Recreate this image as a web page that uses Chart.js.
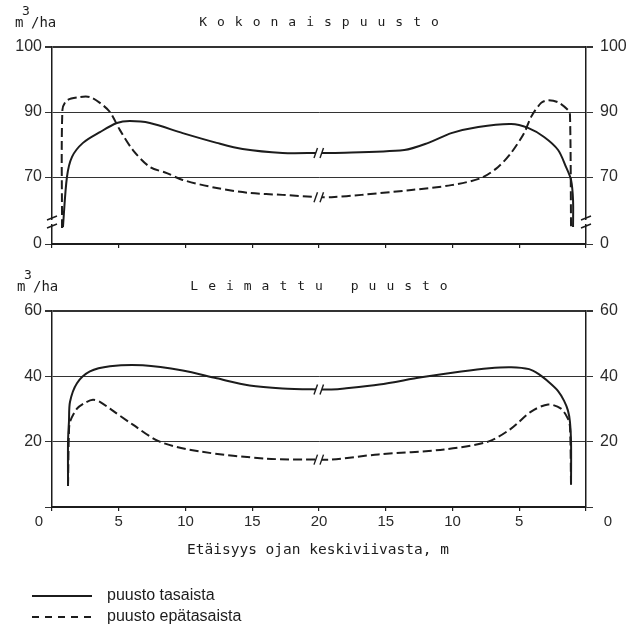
<!DOCTYPE html>
<html lang="fi">
<head>
    <meta charset="UTF-8">
    <title>Puusto</title>
    <script src="https://cdn.jsdelivr.net/npm/chart.js@4.4.0/dist/chart.umd.min.js"></script>
    <style>
        body { margin: 0; background: #fff; }
        #wrap { position: relative; width: 632px; height: 628px; }
        canvas { position: absolute; left: 0; }
        #topChart { top: 0; }
        #bottomChart { top: 262px; }
    </style>
</head>

<body>
    <div id="wrap">
        <canvas id="topChart" width="632" height="262"></canvas>
        <canvas id="bottomChart" width="632" height="366"></canvas>
    </div>
    <script>
        // x = position across the strip (0..40), 20 = middle between the two ditches
        const xTicks = [0, 5, 10, 15, 20, 25, 30, 35, 40];
        const xTickLabels = ['0', '5', '10', '15', '20', '15', '10', '5', '0'];
        const breakX = 20;

        const topTicks = [0, 70, 90, 100];
        const bottomTicks = [0, 20, 40, 60];

        const seriesLabels = ['puusto tasaista', 'puusto epätasaista'];

        // Kokonaispuusto, m3/ha
        const topSolidX = [0.82, 1.12, 1.50, 2.32, 3.59, 4.86, 5.83, 7.33, 9.79, 12.34, 14.28, 17.27, 20, 20.93, 26.39, 28.19, 29.91, 31.93, 34.39, 35.66, 36.86, 37.91, 38.50, 38.88, 39.03, 39.03];
        const topSolidY = [54.6, 70.0, 76.2, 80.5, 83.8, 86.6, 87.2, 86.6, 83.5, 80.5, 78.6, 77.4, 77.4, 77.4, 78.3, 80.5, 83.5, 85.4, 86.3, 85.1, 82.3, 78.3, 73.1, 69.1, 62.9, 54.6];
        const topDashX = [0.75, 0.78, 1.12, 2.09, 2.84, 3.59, 4.34, 5.08, 6.06, 7.33, 8.60, 9.79, 12.34, 14.80, 17.27, 20, 20.93, 23.18, 26.92, 29.91, 32.15, 33.42, 34.39, 35.36, 35.89, 36.64, 37.16, 37.91, 38.65, 38.80, 38.88];
        const topDashY = [54.3, 90.3, 91.8, 92.3, 92.3, 91.4, 90.0, 84.5, 78.3, 73.1, 71.2, 69.1, 66.6, 65.1, 64.5, 63.8, 63.8, 64.5, 66.0, 67.5, 69.7, 73.1, 77.4, 83.5, 88.5, 91.4, 91.8, 91.5, 90.3, 89.1, 54.3];

        // Leimattu puusto, m3/ha
        const botSolidX = [1.20, 1.20, 1.27, 1.35, 1.87, 2.84, 4.34, 6.80, 9.79, 12.34, 14.80, 17.27, 20, 20.93, 21.91, 24.52, 27.66, 30.65, 32.75, 34.39, 35.74, 36.49, 37.23, 37.91, 38.36, 38.65, 38.80, 38.88, 38.88];
        const botSolidY = [6.4, 20.0, 26.1, 32.2, 37.9, 41.5, 43.1, 43.4, 41.8, 39.4, 37.2, 36.3, 36.0, 36.0, 36.3, 37.5, 39.7, 41.5, 42.5, 42.8, 42.2, 40.6, 38.2, 35.5, 32.5, 29.5, 26.0, 20.0, 7.0];
        const botDashX = [1.20, 1.27, 1.35, 1.87, 2.47, 3.07, 3.59, 4.34, 6.06, 8.07, 11.07, 16.07, 20, 20.93, 24.45, 29.38, 32.67, 34.39, 35.89, 37.16, 38.13, 38.65, 38.80, 38.88];
        const botDashY = [6.4, 23.1, 26.1, 30.1, 31.9, 32.8, 32.2, 30.1, 25.2, 20.0, 17.0, 14.8, 14.5, 14.5, 16.1, 17.6, 20.0, 24.0, 29.2, 31.4, 30.1, 27.0, 24.6, 6.4];

        const INK = '#1c1c1c';
        const GRID = '#333';
        const MONO = '"DejaVu Sans Mono", monospace';
        const SANS = '"Liberation Sans", Arial, sans-serif';

        // the upper y axis is drawn unevenly (broken below 70, 90..100 stretched)
        function topPos(v) {
            if (v >= 90) return 132 + (v - 90) * 6.5;
            return Math.max(0, 67 + (v - 70) * 3.25);
        }

        const toPoints = (xs, ys, f) => xs.map((x, i) => ({ x: x, y: f ? f(ys[i]) : ys[i] }));

        function lineSets(sx, sy, dx, dy, f) {
            return [
                { label: seriesLabels[0], data: toPoints(sx, sy, f), borderColor: INK, borderWidth: 2, pointRadius: 0, tension: 0.3, fill: false },
                { label: seriesLabels[1], data: toPoints(dx, dy, f), borderColor: INK, borderWidth: 2, borderDash: [9, 4], pointRadius: 0, tension: 0.3, fill: false }
            ];
        }

        // "//" marks on the curves and the axis breaks
        const breakMarks = {
            id: 'breakMarks',
            afterDatasetsDraw(chart, args, opts) {
                const { ctx, chartArea } = chart;
                const x = chart.scales.x, y = chart.scales.y;
                const bx = x.getPixelForValue(breakX);
                ctx.save();
                ctx.setLineDash([]);
                ctx.strokeStyle = INK;
                ctx.lineWidth = 1.4;
                chart.data.datasets.forEach(ds => {
                    const p = ds.data.find(d => d.x === breakX);
                    if (!p) return;
                    const py = y.getPixelForValue(p.y);
                    ctx.fillStyle = '#fff';
                    ctx.fillRect(bx - 3, py - 3, 6, 6);
                    [-3, 3].forEach(o => {
                        ctx.beginPath();
                        ctx.moveTo(bx + o - 2, py + 5);
                        ctx.lineTo(bx + o + 1.5, py - 5);
                        ctx.stroke();
                    });
                });
                if (opts.axisBreakPos != null) {
                    const by = y.getPixelForValue(opts.axisBreakPos);
                    [chartArea.left, chartArea.right].forEach(ax => {
                        ctx.fillStyle = '#fff';
                        ctx.fillRect(ax - 2, by - 2, 4, 4);
                        ctx.beginPath();
                        ctx.moveTo(ax - 5, by - 2); ctx.lineTo(ax + 5, by - 6);
                        ctx.moveTo(ax - 5, by + 6); ctx.lineTo(ax + 5, by + 2);
                        ctx.stroke();
                    });
                }
                ctx.restore();
            }
        };

        // titles, unit, axis title, legend
        const decor = {
            id: 'decor',
            afterDraw(chart, args, o) {
                const { ctx, chartArea } = chart;
                ctx.save();
                ctx.fillStyle = INK;
                ctx.textBaseline = 'alphabetic';
                // unit m3/ha
                ctx.font = '14px ' + MONO;
                ctx.fillText('m', o.unitX, o.unitY);
                ctx.fillText('/ha', o.unitX + 16, o.unitY);
                ctx.font = '13px ' + MONO;
                ctx.fillText('3', o.unitX + 7, o.unitY - 12);
                // spaced title
                ctx.font = '13px ' + MONO;
                ctx.letterSpacing = '10px';
                const w = ctx.measureText(o.title).width - 10;
                ctx.textBaseline = 'middle';
                ctx.fillText(o.title, (chartArea.left + chartArea.right) / 2 - w / 2, o.titleY);
                ctx.letterSpacing = '0px';

                if (o.xTitle) {
                    const lab = chart.scales.x;
                    ctx.font = '15px ' + SANS;
                    ctx.fillStyle = '#2a2a2a';
                    ctx.textAlign = 'center';
                    ctx.fillText(xTickLabels[0], lab.getPixelForValue(xTicks[0]) - 13, chartArea.bottom + 15);
                    ctx.fillText(xTickLabels[xTickLabels.length - 1], lab.getPixelForValue(xTicks[xTicks.length - 1]) + 22, chartArea.bottom + 15);
                    ctx.fillStyle = INK;
                    ctx.font = '14.5px ' + MONO;
                    ctx.fillText(o.xTitle, (chartArea.left + chartArea.right) / 2 - 1, chartArea.bottom + 43);
                    ctx.textAlign = 'left';
                    chart.data.datasets.forEach((ds, i) => {
                        const ly = o.legendY + i * 21;
                        ctx.strokeStyle = INK;
                        ctx.lineWidth = 2;
                        ctx.setLineDash(ds.borderDash ? [7, 6] : []);
                        ctx.beginPath();
                        ctx.moveTo(32, ly);
                        ctx.lineTo(92, ly);
                        ctx.stroke();
                        ctx.font = '16px ' + SANS;
                        ctx.fillText(ds.label, 107, ly);
                    });
                }
                ctx.restore();
            }
        };

        function xScale(showLabels) {
            return {
                type: 'linear', min: 0, max: 40,
                afterBuildTicks: s => { s.ticks = xTicks.map(v => ({ value: v })); },
                ticks: {
                    display: showLabels,
                    autoSkip: false,
                    maxRotation: 0,
                    padding: 2,
                    color: '#2a2a2a',
                    font: { family: SANS, size: 15 },
                    callback: (v, i) => (i === 0 || i === xTicks.length - 1) ? '' : xTickLabels[i]
                },
                grid: { drawOnChartArea: false, tickLength: 4, color: INK, lineWidth: 1.2 },
                border: { color: INK, width: 2 },
                afterFit: s => { s.height = showLabels ? 30 : 10; }
            };
        }

        function yScale(pos, ticksList, f, max, showZero) {
            const right = pos === 'right';
            return {
                type: 'linear', position: pos, min: 0, max: max,
                afterBuildTicks: s => { s.ticks = ticksList.map(v => ({ value: f ? f(v) : v })); },
                ticks: {
                    autoSkip: false,
                    padding: right ? 7 : 3,
                    color: '#2a2a2a',
                    font: { family: SANS, size: 16 },
                    callback: (v, i) => (ticksList[i] === 0 && !showZero) ? '' : String(ticksList[i])
                },
                grid: {
                    drawOnChartArea: !right,
                    color: GRID,
                    lineWidth: c => c.index === ticksList.length - 1 ? 2 : 1,
                    tickLength: 7
                },
                border: { color: INK, width: 1.5 },
                afterFit: s => { s.width = right ? 46 : 52; }
            };
        }

        new Chart(document.getElementById('topChart'), {
            type: 'line',
            data: { datasets: lineSets(topSolidX, topSolidY, topDashX, topDashY, topPos) },
            options: {
                responsive: false, animation: false, events: [],
                layout: { padding: { top: 47, bottom: 8, left: 0, right: 0 } },
                plugins: {
                    legend: { display: false }, tooltip: { enabled: false },
                    breakMarks: { axisBreakPos: 22 },
                    decor: { title: 'Kokonaispuusto', titleY: 23, unitX: 15, unitY: 27 }
                },
                scales: {
                    x: xScale(false),
                    y: yScale('left', topTicks, topPos, topPos(100), true),
                    y2: yScale('right', topTicks, topPos, topPos(100), true)
                }
            },
            plugins: [breakMarks, decor]
        });

        new Chart(document.getElementById('bottomChart'), {
            type: 'line',
            data: { datasets: lineSets(botSolidX, botSolidY, botDashX, botDashY, null) },
            options: {
                responsive: false, animation: false, events: [],
                layout: { padding: { top: 49, bottom: 91, left: 0, right: 0 } },
                plugins: {
                    legend: { display: false }, tooltip: { enabled: false },
                    breakMarks: {},
                    decor: {
                        title: 'Leimattu puusto', titleY: 25, unitX: 17, unitY: 29,
                        xTitle: 'Etäisyys ojan keskiviivasta, m', legendY: 334
                    }
                },
                scales: {
                    x: xScale(true),
                    y: yScale('left', bottomTicks, null, 60, false),
                    y2: yScale('right', bottomTicks, null, 60, false)
                }
            },
            plugins: [breakMarks, decor]
        });
    </script>
</body>

</html>
